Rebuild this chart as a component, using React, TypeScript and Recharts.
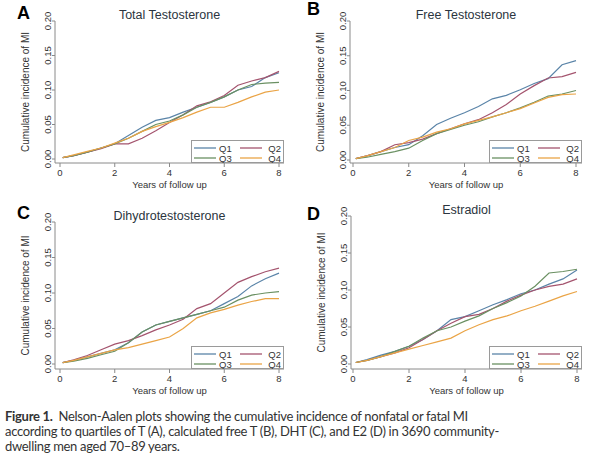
import React from 'react';
import { LineChart, Line, XAxis, YAxis, Legend, Label } from 'recharts';

const years = [0.1, 0.5, 1, 1.5, 2, 2.5, 3, 3.5, 4, 4.5, 5, 5.5, 6, 6.5, 7, 7.5, 8];
const xTicks = [0, 2, 4, 6, 8];
const yTicks = [0, 0.05, 0.1, 0.15, 0.2];
const quartiles = ['Q1', 'Q2', 'Q3', 'Q4'];
const quartileColors = ['#5a84a8', '#a4546e', '#6a9062', '#eaa446'];

// A - Total Testosterone
const totalT_Q1 = [0.002, 0.005, 0.010, 0.016, 0.022, 0.034, 0.046, 0.056, 0.060, 0.068, 0.075, 0.082, 0.090, 0.100, 0.105, 0.118, 0.125];
const totalT_Q2 = [0.002, 0.005, 0.010, 0.015, 0.022, 0.022, 0.030, 0.041, 0.053, 0.064, 0.077, 0.083, 0.092, 0.107, 0.113, 0.118, 0.127];
const totalT_Q3 = [0.002, 0.005, 0.010, 0.016, 0.022, 0.030, 0.040, 0.050, 0.055, 0.064, 0.075, 0.082, 0.090, 0.100, 0.108, 0.110, 0.111];
const totalT_Q4 = [0.002, 0.006, 0.011, 0.016, 0.023, 0.030, 0.040, 0.047, 0.053, 0.060, 0.068, 0.075, 0.075, 0.082, 0.090, 0.097, 0.100];

// B - Free Testosterone
const freeT_Q1 = [0.002, 0.006, 0.012, 0.018, 0.022, 0.035, 0.051, 0.060, 0.068, 0.077, 0.088, 0.093, 0.101, 0.110, 0.117, 0.137, 0.143];
const freeT_Q2 = [0.002, 0.006, 0.012, 0.022, 0.025, 0.030, 0.038, 0.045, 0.052, 0.058, 0.068, 0.080, 0.095, 0.107, 0.118, 0.120, 0.126];
const freeT_Q3 = [0.002, 0.004, 0.008, 0.012, 0.017, 0.028, 0.038, 0.044, 0.050, 0.055, 0.062, 0.068, 0.075, 0.083, 0.092, 0.095, 0.100];
const freeT_Q4 = [0.002, 0.006, 0.012, 0.018, 0.028, 0.033, 0.040, 0.045, 0.052, 0.057, 0.062, 0.068, 0.074, 0.082, 0.090, 0.094, 0.095];

// C - Dihydrotestosterone
const dht_Q1 = [0.002, 0.005, 0.010, 0.015, 0.020, 0.030, 0.045, 0.055, 0.060, 0.065, 0.070, 0.075, 0.085, 0.095, 0.110, 0.120, 0.128];
const dht_Q2 = [0.002, 0.006, 0.012, 0.020, 0.028, 0.033, 0.040, 0.048, 0.055, 0.063, 0.078, 0.085, 0.100, 0.115, 0.123, 0.130, 0.135];
const dht_Q3 = [0.002, 0.004, 0.008, 0.013, 0.018, 0.030, 0.045, 0.055, 0.060, 0.065, 0.070, 0.075, 0.080, 0.090, 0.097, 0.100, 0.102];
const dht_Q4 = [0.002, 0.005, 0.010, 0.015, 0.020, 0.023, 0.028, 0.033, 0.038, 0.050, 0.065, 0.072, 0.077, 0.083, 0.088, 0.092, 0.092];

// D - Estradiol
const e2_Q1 = [0.002, 0.006, 0.012, 0.017, 0.024, 0.033, 0.045, 0.060, 0.064, 0.072, 0.080, 0.087, 0.095, 0.100, 0.108, 0.115, 0.127];
const e2_Q2 = [0.002, 0.005, 0.010, 0.015, 0.022, 0.033, 0.045, 0.055, 0.064, 0.067, 0.075, 0.085, 0.093, 0.100, 0.105, 0.108, 0.115];
const e2_Q3 = [0.002, 0.005, 0.010, 0.017, 0.024, 0.035, 0.045, 0.050, 0.058, 0.065, 0.075, 0.083, 0.092, 0.105, 0.123, 0.125, 0.128];
const e2_Q4 = [0.002, 0.005, 0.010, 0.015, 0.020, 0.025, 0.030, 0.035, 0.045, 0.053, 0.060, 0.065, 0.072, 0.078, 0.085, 0.092, 0.098];

const buildRows = (series: number[][]) =>
  years.map((x, i) => {
    const row: Record<string, number> = { x };
    quartiles.forEach((q, k) => (row[q] = series[k][i]));
    return row;
  });

const FONT = '"Liberation Sans", Arial, sans-serif';
const AXIS_COLOR = '#8a8a8a';
const TEXT_COLOR = '#333';

// plot box is in page pixels: l/t/r/b = axis lines, x0/x8 = where 0 and 8 years fall, y0 = where 0.00 falls
interface PanelProps {
  letter: string;
  title: string;
  rows: Record<string, number>[];
  box: { left: number; top: number; width: number; height: number };
  plot: { l: number; t: number; r: number; b: number; x0: number; x8: number; y0: number };
  letterPos: { left: number; top: number };
}

const YTick = (props: any) => {
  const { x, y, payload } = props;
  return (
    <text
      x={x}
      y={y}
      transform={`rotate(-90, ${x}, ${y})`}
      textAnchor="middle"
      fontSize={9.5}
      fontFamily={FONT}
      fill={TEXT_COLOR}
    >
      {payload.value.toFixed(2)}
    </text>
  );
};

const LegendBox = () => (
  <svg width={93} height={23} style={{ display: 'block' }}>
    <rect x={0.5} y={0.5} width={92} height={22} fill="#fff" stroke="#9a9a9a" strokeWidth={1} />
    {quartiles.map((q, i) => {
      const col = i % 2;
      const row = Math.floor(i / 2);
      const lx = col === 0 ? 3 : 49;
      const ly = row === 0 ? 8 : 18;
      return (
        <g key={q}>
          <line x1={lx} x2={lx + 22} y1={ly} y2={ly} stroke={quartileColors[i]} strokeWidth={1.3} />
          <text x={col === 0 ? 28 : 90} y={ly + 3.5} textAnchor={col === 0 ? 'start' : 'end'} fontSize={9.5} fontFamily={FONT} fill={TEXT_COLOR}>
            {q}
          </text>
        </g>
      );
    })}
  </svg>
);

const Panel: React.FC<PanelProps> = ({ letter, title, rows, box, plot, letterPos }) => {
  const yAxisW = 10;
  const xAxisH = 20;
  const margin = {
    left: plot.l - box.left - yAxisW,
    top: plot.t - box.top,
    right: box.left + box.width - plot.r,
    bottom: box.top + box.height - plot.b - xAxisH,
  };
  const midY = (plot.t + plot.b) / 2 - box.top;
  const midX = (plot.l + plot.r) / 2 - box.left;
  return (
    <>
      <div
        style={{
          position: 'absolute',
          left: letterPos.left,
          top: letterPos.top,
          fontFamily: FONT,
          fontWeight: 'bold',
          fontSize: 18,
          lineHeight: '18px',
          color: '#000',
        }}
      >
        {letter}
      </div>
      <div style={{ position: 'absolute', left: box.left, top: box.top, width: box.width, height: box.height }}>
        <LineChart width={box.width} height={box.height} data={rows} margin={margin}>
          <XAxis
            type="number"
            dataKey="x"
            domain={[0, 8]}
            ticks={xTicks}
            height={xAxisH}
            padding={{ left: plot.x0 - plot.l, right: plot.r - plot.x8 }}
            stroke={AXIS_COLOR}
            tickSize={4}
            tickMargin={2}
            tick={{ fontSize: 9.5, fontFamily: FONT, fill: TEXT_COLOR }}
          >
            <Label
              content={() => (
                <text x={midX} y={plot.b - box.top + 25} textAnchor="middle" fontSize={9.5} fontFamily={FONT} fill={TEXT_COLOR}>
                  Years of follow up
                </text>
              )}
            />
          </XAxis>
          <YAxis
            type="number"
            domain={[0, 0.2]}
            ticks={yTicks}
            width={yAxisW}
            padding={{ top: 0, bottom: plot.b - plot.y0 }}
            stroke={AXIS_COLOR}
            tickSize={3}
            tickMargin={1}
            tick={<YTick />}
          >
            <Label
              content={() => {
                const cx = plot.l - box.left - 30;
                return (
                  <text
                    x={cx}
                    y={midY}
                    transform={`rotate(-90, ${cx}, ${midY})`}
                    textAnchor="middle"
                    dominantBaseline="central"
                    fontSize={10}
                    fontFamily={FONT}
                    fill={TEXT_COLOR}
                  >
                    Cumulative incidence of MI
                  </text>
                );
              }}
            />
          </YAxis>
          <Legend
            layout="horizontal"
            verticalAlign="middle"
            align="center"
            content={() => <LegendBox />}
            wrapperStyle={{ left: plot.r - box.left - 93, top: plot.b - box.top - 23, width: 93, height: 23 }}
          />
          {quartiles.map((q, i) => (
            <Line
              key={q}
              type="linear"
              dataKey={q}
              stroke={quartileColors[i]}
              strokeWidth={1.2}
              dot={false}
              isAnimationActive={false}
            />
          ))}
        </LineChart>
        <div
          style={{
            position: 'absolute',
            left: 0,
            width: midX * 2,
            top: plot.t - box.top - 13,
            textAlign: 'center',
            fontFamily: FONT,
            fontSize: 12.5,
            lineHeight: '14px',
            color: '#2b3540',
          }}
        >
          {title}
        </div>
      </div>
    </>
  );
};

const App: React.FC = () => {
  return (
    <div style={{ position: 'absolute', left: 0, top: 0, width: 600, height: 463, background: '#fff', overflow: 'hidden' }}>
      <Panel
        letter="A"
        title="Total Testosterone"
        rows={buildRows([totalT_Q1, totalT_Q2, totalT_Q3, totalT_Q4])}
        box={{ left: 0, top: 0, width: 297, height: 200 }}
        plot={{ l: 55, t: 21, r: 284, b: 163, x0: 60, x8: 279, y0: 159 }}
        letterPos={{ left: 17, top: 4 }}
      />
      <Panel
        letter="B"
        title="Free Testosterone"
        rows={buildRows([freeT_Q1, freeT_Q2, freeT_Q3, freeT_Q4])}
        box={{ left: 297, top: 0, width: 303, height: 200 }}
        plot={{ l: 350, t: 21, r: 582, b: 163, x0: 353, x8: 576, y0: 160 }}
        letterPos={{ left: 307, top: 0 }}
      />
      <Panel
        letter="C"
        title="Dihydrotestosterone"
        rows={buildRows([dht_Q1, dht_Q2, dht_Q3, dht_Q4])}
        box={{ left: 0, top: 200, width: 297, height: 200 }}
        plot={{ l: 55, t: 222, r: 284, b: 369, x0: 60, x8: 279, y0: 364 }}
        letterPos={{ left: 17, top: 204 }}
      />
      <Panel
        letter="D"
        title="Estradiol"
        rows={buildRows([e2_Q1, e2_Q2, e2_Q3, e2_Q4])}
        box={{ left: 297, top: 200, width: 303, height: 200 }}
        plot={{ l: 351, t: 216, r: 582, b: 369, x0: 353, x8: 577, y0: 364 }}
        letterPos={{ left: 307, top: 205 }}
      />
      <div
        style={{
          position: 'absolute',
          left: 5,
          top: 409,
          fontFamily: 'Lato, "Noto Sans", sans-serif',
          fontSize: 13,
          letterSpacing: '-0.3px',
          lineHeight: '15px',
          color: '#333',
          whiteSpace: 'nowrap',
        }}
      >
        <b>Figure 1.</b>&nbsp; Nelson-Aalen plots showing the cumulative incidence of nonfatal or fatal MI
        <br />
        according to quartiles of T (A), calculated free T (B), DHT (C), and E2 (D) in 3690 community-
        <br />
        dwelling men aged 70–89 years.
      </div>
    </div>
  );
};

export default App;
